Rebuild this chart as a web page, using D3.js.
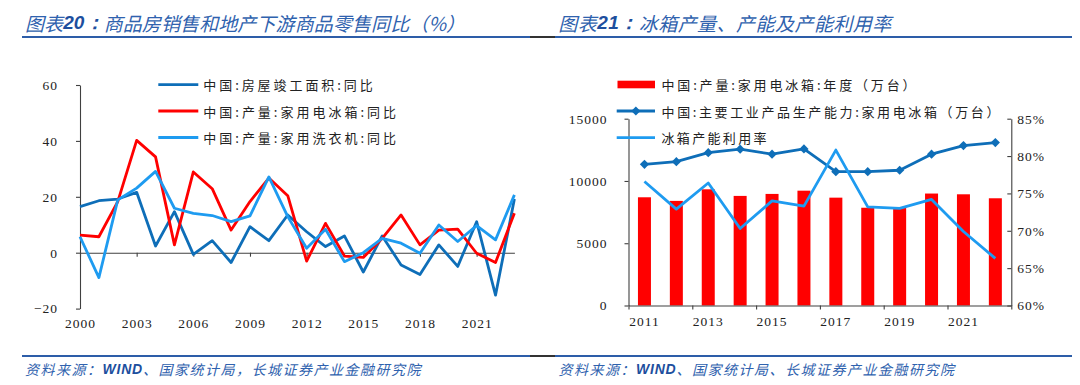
<!DOCTYPE html>
<html><head><meta charset="utf-8">
<script src="https://cdn.jsdelivr.net/npm/d3@7"></script>
<style>
body{margin:0;background:#fff}
svg text{font-family:"Noto Sans CJK SC","Noto Sans",sans-serif}
.num{font-family:"Liberation Serif","Times New Roman",serif;font-size:13.5px;letter-spacing:1px;fill:#222}
</style>
</head><body><svg id="c" width="1080" height="385"></svg>
<script>
// ---------- data: left chart ----------
const yearsL = [2000,2001,2002,2003,2004,2005,2006,2007,2008,2009,2010,2011,2012,2013,2014,2015,2016,2017,2018,2019,2020,2021,2022,2023];
const houseYoY  = [16.5,18.6,19.2,21.6,2.4,14.7,-0.6,4.3,-3.5,9.3,4.3,13.5,7.5,2.2,6.0,-6.9,6.0,-4.4,-7.8,2.8,-4.9,11.1,-15.2,19.2];
const fridgeYoY = [6.3,5.7,18.3,40.2,34.3,2.8,28.9,22.9,8.1,18.3,26.7,20.4,-3.0,10.5,-1.2,-1.7,5.1,13.5,2.8,8.1,8.4,-0.2,-3.5,14.1];
const washerYoY = [5.7,-8.9,18.9,23.1,29.1,15.9,14.1,13.3,11.1,13.2,27.1,12.9,1.6,8.4,-3.2,0.0,5.1,3.4,-0.2,9.9,4.0,9.7,4.6,20.7];
const yTicksL = [-20,0,20,40,60];
const xTicksL = [2000,2003,2006,2009,2012,2015,2018,2021];
const legendL = ["中国:房屋竣工面积:同比","中国:产量:家用电冰箱:同比","中国:产量:家用洗衣机:同比"];

// ---------- data: right chart ----------
const yearsR = [2011,2012,2013,2014,2015,2016,2017,2018,2019,2020,2021,2022];
const fridgeOutput   = [8690,8400,9330,8800,8960,9220,8660,7850,7900,8990,8930,8610];
const fridgeCapacity = [11340,11550,12270,12550,12150,12570,10750,10750,10860,12150,12840,13080];
const utilization    = [0.766,0.729,0.764,0.703,0.740,0.733,0.808,0.732,0.730,0.742,0.699,0.663];
const yTicksR  = [0,5000,10000,15000];
const y2TicksR = [0.60,0.65,0.70,0.75,0.80,0.85];
const xLabelsR = [2011,2013,2015,2017,2019,2021];
const legendR = ["中国:产量:家用电冰箱:年度（万台）","中国:主要工业产品生产能力:家用电冰箱（万台）","冰箱产能利用率"];

const titleL = ["图表","20：","商品房销售和地产下游商品零售同比（%）"];
const titleR = ["图表","21：","冰箱产量、产能及产能利用率"];
const sourceL = ["资料来源：","WIND","、国家统计局，长城证券产业金融研究院"];
const sourceR = ["资料来源：","WIND","、国家统计局、长城证券产业金融研究院"];

// ---------- styles ----------
const C_DARK = "#0E6EB8", C_RED = "#FF0000", C_LIGHT = "#1E9BF0";
const C_AXIS = "#404040", C_HEAD = "#2F62AE", C_HEAD2 = "#1D4F9E", C_RULE = "#2D5DA8";

const svg = d3.select("#c");
svg.append("rect").attr("width",1080).attr("height",385).attr("fill","#fff");

// ---------- headers / footers ----------
function header(parts, x, y, len, size, strongColor){
  const t = svg.append("text").attr("x",x).attr("y",y)
    .attr("dominant-baseline","central").attr("font-style","italic")
    .attr("font-size",size).attr("fill",C_HEAD)
    .attr("textLength",len).attr("lengthAdjust","spacing");
  t.append("tspan").text(parts[0]);
  t.append("tspan").attr("font-weight","bold").attr("fill",strongColor).attr("font-family","Liberation Sans, Arial, sans-serif").text(parts[1]);
  t.append("tspan").text(parts[2]);
}
header(titleL, 25, 22, 440, 19, C_HEAD2);
header(titleR, 558.3, 22, 333, 19, C_HEAD2);

function source(parts, x, y){
  const t = svg.append("text").attr("x",x).attr("y",y)
    .attr("dominant-baseline","central").attr("font-style","italic")
    .attr("font-size",14).attr("fill",C_HEAD).attr("letter-spacing","1.5px");
  t.append("tspan").text(parts[0]);
  t.append("tspan").attr("font-weight","bold").attr("fill",C_HEAD2).attr("font-family","Liberation Sans, Arial, sans-serif").attr("letter-spacing","0.8px").text(parts[1]);
  t.append("tspan").text(parts[2]);
}
source(sourceL, 25, 369);
source(sourceR, 558.5, 369);

function rule(y){
  svg.append("line").attr("x1",22).attr("x2",530).attr("y1",y).attr("y2",y).attr("stroke",C_RULE).attr("stroke-width",2);
  svg.append("line").attr("x1",530).attr("x2",555).attr("y1",y).attr("y2",y).attr("stroke","#333").attr("stroke-width",2);
  svg.append("line").attr("x1",555).attr("x2",1072).attr("y1",y).attr("y2",y).attr("stroke",C_RULE).attr("stroke-width",2);
}
rule(37); rule(356);

// ---------- left chart ----------
const xL = d3.scaleLinear().domain([2000,2023]).range([80,514.4]);
const yL = d3.scaleLinear().domain([-20,60]).range([308.6,85]);

svg.append("g").attr("transform","translate(80,0)")
  .call(d3.axisLeft(yL).tickValues(yTicksL).tickSize(4).tickPadding(18).tickSizeOuter(0)
        .tickFormat(d=>d<0?"\u2212"+Math.abs(d):d));
svg.append("g").attr("transform",`translate(0,${yL(0)})`)
  .call(d3.axisBottom(xL).tickValues(xTicksL).tickSize(4).tickSizeOuter(0).tickFormat(""));
const gxLlab = svg.append("g").attr("transform",`translate(0,${yL(-20)})`)
  .call(d3.axisBottom(xL).tickValues(xTicksL).tickSize(0).tickPadding(10).tickFormat(d3.format("d")));
gxLlab.select(".domain").remove();

const lineL = d3.line().x((d,i)=>xL(yearsL[i])).y(d=>yL(d));
[[houseYoY,C_DARK],[fridgeYoY,C_RED],[washerYoY,C_LIGHT]].forEach(([s,c])=>{
  svg.append("path").datum(s).attr("d",lineL).attr("fill","none").attr("stroke",c)
    .attr("stroke-width",2.8).attr("stroke-linejoin","round");
});

// legend left
const legLW = [169.4,192.7,192.7];
const legLY = [84.7,111,137.5];
legendL.forEach((t,i)=>{
  const c = [C_DARK,C_RED,C_LIGHT][i];
  svg.append("line").attr("x1",158.3).attr("x2",198.3).attr("y1",legLY[i]).attr("y2",legLY[i])
    .attr("stroke",c).attr("stroke-width",2.8);
  svg.append("text").attr("x",203.3).attr("y",legLY[i]).attr("dominant-baseline","central")
    .attr("font-size",13).attr("fill","#222").attr("textLength",legLW[i]).attr("lengthAdjust","spacing").text(t);
});

// ---------- right chart ----------
const x0 = 628.5, x1 = 1011.3;
const xR = d3.scaleBand().domain(yearsR).range([x0,x1]).padding(0);
const xRi = d3.scaleLinear().domain([0,yearsR.length]).range([x0,x1]);
const yR = d3.scaleLinear().domain([0,15000]).range([305.5,118.7]);
const yR2 = d3.scaleLinear().domain([0.60,0.85]).range([305.5,118.7]);
const cx = d => xR(d)+xR.bandwidth()/2;
const barW = 13;

svg.append("g").selectAll("rect").data(fridgeOutput).join("rect")
  .attr("x",(d,i)=>cx(yearsR[i])-barW/2).attr("width",barW)
  .attr("y",d=>yR(d)).attr("height",d=>yR(0)-yR(d)).attr("fill",C_RED);

svg.append("g").attr("transform",`translate(${x0},0)`)
  .call(d3.axisLeft(yR).tickValues(yTicksR).tickSize(4).tickPadding(17).tickSizeOuter(0).tickFormat(d3.format("d")));
svg.append("g").attr("transform",`translate(${x1},0)`)
  .call(d3.axisRight(yR2).tickValues(y2TicksR).tickSize(-4).tickPadding(6).tickSizeOuter(0).tickFormat(d3.format(".0%")));
svg.append("g").attr("transform",`translate(0,${yR(0)})`)
  .call(d3.axisBottom(xRi).tickValues([0,2,4,6,8,10,12]).tickSize(4).tickSizeOuter(0).tickFormat(""));
const gxRlab = svg.append("g").attr("transform",`translate(0,${yR(0)})`)
  .call(d3.axisBottom(xR).tickValues(xLabelsR).tickSize(0).tickPadding(11).tickFormat(d3.format("d")));
gxRlab.select(".domain").remove();

const lineCap = d3.line().x((d,i)=>cx(yearsR[i])).y(d=>yR(d));
svg.append("path").datum(fridgeCapacity).attr("d",lineCap).attr("fill","none").attr("stroke",C_DARK)
  .attr("stroke-width",2.8).attr("stroke-linejoin","round");
const diamond = "M0,-4.6L4.6,0L0,4.6L-4.6,0Z";
svg.append("g").selectAll("path").data(fridgeCapacity).join("path")
  .attr("d",diamond).attr("transform",(d,i)=>`translate(${cx(yearsR[i])},${yR(d)})`).attr("fill",C_DARK);

const lineUt = d3.line().x((d,i)=>cx(yearsR[i])).y(d=>yR2(d));
svg.append("path").datum(utilization).attr("d",lineUt).attr("fill","none").attr("stroke",C_LIGHT)
  .attr("stroke-width",2.8).attr("stroke-linejoin","round");

// legend right
const legRW = [254,338,105];
const legRY = [84.5,111,137.7];
svg.append("rect").attr("x",617.5).attr("y",legRY[0]-3.8).attr("width",37.5).attr("height",7.6).attr("fill",C_RED);
svg.append("line").attr("x1",616.7).attr("x2",655).attr("y1",legRY[1]).attr("y2",legRY[1]).attr("stroke",C_DARK).attr("stroke-width",2.8);
svg.append("path").attr("d",diamond).attr("transform",`translate(${(616.7+655)/2},${legRY[1]})`).attr("fill",C_DARK);
svg.append("line").attr("x1",616.7).attr("x2",655).attr("y1",legRY[2]).attr("y2",legRY[2]).attr("stroke",C_LIGHT).attr("stroke-width",2.8);
legendR.forEach((t,i)=>{
  svg.append("text").attr("x",661.5).attr("y",legRY[i]).attr("dominant-baseline","central")
    .attr("font-size",13).attr("fill","#222").attr("textLength",legRW[i]).attr("lengthAdjust","spacing").text(t);
});

// axis styling
svg.selectAll(".domain").attr("stroke",C_AXIS).attr("stroke-width",1.1);
svg.selectAll(".tick line").attr("stroke",C_AXIS).attr("stroke-width",1.1);
svg.selectAll(".tick text").attr("class","num").attr("fill","#222");
</script>
</body></html>
